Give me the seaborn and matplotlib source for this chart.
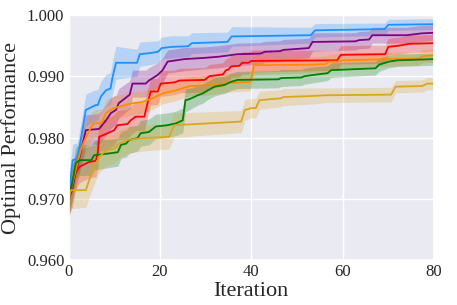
import numpy as np
import pandas as pd
import seaborn as sns
import matplotlib
matplotlib.use("Agg")
import matplotlib.pyplot as plt

# corner points of each curve (iteration, mean performance, band half-width)
blue_x = [0, 0.9, 1.9, 2.3, 3.8, 6.0, 6.4, 7.1, 8.2, 9.2, 9.6, 10.4, 15.0, 15.6, 18.0, 19.6, 20.4,
          22.6, 26.2, 27.0, 34.8, 35.7, 53.0, 54.0, 69.2, 70.0, 80]
blue_y = [.9700, .9763, .9765, .9780, .9845, .9853, .9853, .9867, .9877, .9880, .9897, .9922, .9922,
          .9936, .9938, .9940, .9946, .9948, .9949, .9954, .9956, .9965, .9967, .9975, .9977, .9984, .9985]
blue_s = [.0030, .0026, .0026, .0026, .0026, .0025, .0025, .0025, .0026, .0026, .0027, .0027, .0022,
          .0020, .0019, .0018, .0018, .0018, .0017, .0017, .0016, .0016, .0013, .0011, .0010, .0009, .0009]

purple_x = [0, 0.8, 1.5, 2.4, 3.8, 6.7, 8.2, 9.3, 10.4, 11.0, 12.9, 13.4, 14.0, 16.9, 17.6, 19.5, 20.6,
            21.7, 25.4, 29.8, 33.0, 37.0, 42.0, 43.0, 46.3, 47.0, 52.6, 53.4, 62.8, 63.6, 65.8, 66.5,
            74.0, 77.3, 80]
purple_y = [.9700, .9714, .9740, .9768, .9812, .9814, .9828, .9840, .9845, .9856, .9867, .9870, .9888,
            .9888, .9893, .9902, .9910, .9924, .9928, .9930, .9932, .9936, .9937, .9940, .9941, .9943,
            .9946, .9956, .9957, .9959, .9960, .9967, .9967, .9970, .9971]
purple_s = [.0030, .0028, .0027, .0026, .0025, .0025, .0025, .0025, .0024, .0024, .0023, .0023, .0022,
            .0022, .0021, .0020, .0020, .0019, .0019, .0018, .0018, .0018, .0018, .0017, .0017, .0017,
            .0016, .0015, .0014, .0014, .0014, .0013, .0013, .0013, .0013]

red_x = [0, 0.8, 1.3, 2.4, 4.5, 6.0, 6.4, 6.7, 8.6, 10.0, 10.7, 12.9, 13.6, 14.7, 16.6, 17.3, 18.0,
         19.5, 20.2, 23.2, 24.3, 29.8, 30.8, 33.8, 34.5, 35.0, 35.6, 37.4, 38.0, 39.4, 40.0, 58.8,
         59.6, 69.3, 70.0, 72.4, 74.6, 80]
red_y = [.9700, .9725, .9739, .9752, .9760, .9762, .9775, .9801, .9807, .9812, .9820, .9822, .9828,
         .9834, .9834, .9856, .9875, .9875, .9888, .9890, .9893, .9894, .9900, .9903, .9910, .9911,
         .9916, .9917, .9922, .9922, .9925, .9926, .9935, .9936, .9948, .9950, .9953, .9954]
red_s = [.0030, .0028, .0027, .0026, .0026, .0026, .0026, .0025, .0025, .0025, .0024, .0024, .0024,
         .0023, .0023, .0022, .0022, .0021, .0021, .0020, .0020, .0020, .0019, .0019, .0019, .0019,
         .0018, .0018, .0018, .0018, .0018, .0016, .0015, .0015, .0014, .0014, .0014, .0014]

orange_x = [0, 0.8, 1.5, 2.7, 3.5, 5.0, 5.6, 7.3, 8.2, 9.9, 12.0, 14.0, 16.2, 18.4, 20.6, 23.5, 26.5,
            30.0, 34.8, 39.8, 40.6, 54.0, 56.4, 57.0, 59.4, 60.0, 76.7, 77.6, 80]
orange_y = [.9700, .9722, .9745, .9780, .9795, .9818, .9823, .9824, .9840, .9848, .9852, .9856, .9858,
            .9864, .9872, .9877, .9884, .9885, .9889, .9891, .9918, .9919, .9920, .9924, .9924, .9926,
            .9929, .9933, .9934]
orange_s = [.0030, .0027, .0026, .0025, .0024, .0023, .0022, .0022, .0021, .0020, .0019, .0019, .0018,
            .0018, .0017, .0017, .0016, .0016, .0015, .0015, .0015, .0013, .0013, .0012, .0012, .0012,
            .0011, .0011, .0011]

green_x = [0, 0.8, 1.6, 2.4, 5.0, 5.6, 8.9, 10.8, 11.5, 12.6, 13.3, 15.1, 15.8, 17.6, 19.1, 21.6, 23.5,
           25.0, 25.6, 26.2, 26.9, 28.3, 29.4, 30.5, 32.0, 34.2, 35.6, 37.0, 46.0, 46.5, 51.0, 51.6,
           53.4, 56.7, 57.5, 67.2, 68.0, 70.2, 72.0, 80]
green_y = [.9700, .9725, .9758, .9763, .9763, .9771, .9774, .9776, .9788, .9790, .9796, .9799, .9807,
           .9809, .9818, .9820, .9823, .9828, .9861, .9862, .9864, .9869, .9872, .9877, .9883, .9886,
           .9891, .9894, .9895, .9897, .9898, .9900, .9902, .9905, .9910, .9913, .9919, .9924, .9926,
           .9928]
green_s = [.0030, .0028, .0026, .0025, .0025, .0024, .0023, .0023, .0022, .0022, .0022, .0021, .0021,
           .0021, .0020, .0020, .0020, .0020, .0019, .0018, .0017, .0016, .0016, .0015, .0015, .0014,
           .0014, .0014, .0014, .0014, .0013, .0013, .0013, .0012, .0012, .0011, .0011, .0010, .0010,
           .0010]

gold_x = [0, 0.5, 3.8, 4.5, 6.0, 6.7, 8.2, 10.0, 11.1, 12.9, 16.2, 22.0, 23.1, 37.8, 38.6, 40.0, 41.0,
          41.8, 46.5, 47.0, 54.0, 56.4, 70.6, 71.6, 77.4, 78.5, 80]
gold_y = [.9700, .9714, .9714, .9730, .9758, .9768, .9779, .9782, .9790, .9796, .9799, .9801, .9820,
          .9826, .9845, .9848, .9848, .9861, .9864, .9866, .9868, .9869, .9870, .9883, .9884, .9888, .9888]
gold_s = [.0030, .0030, .0028, .0028, .0027, .0026, .0025, .0024, .0023, .0022, .0021, .0020, .0020,
          .0018, .0017, .0016, .0016, .0015, .0014, .0014, .0013, .0012, .0012, .0010, .0010, .0010, .0010]

series = [
    ("blue", blue_x, blue_y, blue_s, "#1E90FF"),
    ("purple", purple_x, purple_y, purple_s, "purple"),
    ("red", red_x, red_y, red_s, "red"),
    ("orange", orange_x, orange_y, orange_s, "darkorange"),
    ("green", green_x, green_y, green_s, "green"),
    ("gold", gold_x, gold_y, gold_s, "goldenrod"),
]

frames = []
for name, xs, ys, ss, _ in series:
    frames.append(pd.DataFrame({"Iteration": xs, "perf": ys, "spread": ss, "run": name}))
df = pd.concat(frames, ignore_index=True)
palette = {name: c for name, _, _, _, c in series}

sns.set_theme(style="darkgrid")
plt.rcParams["font.family"] = ["Liberation Serif", "DejaVu Serif"]

fig = plt.figure(figsize=(4.57, 3.05), dpi=100)
ax = fig.add_axes([68.5 / 457, 45 / 305, (434 - 68.5) / 457, 245 / 305])

# shaded bands first, lines on top
for name, _, _, _, c in series:
    d = df[df["run"] == name]
    ax.fill_between(d["Iteration"], d["perf"] - d["spread"], d["perf"] + d["spread"],
                    color=c, alpha=0.25, linewidth=0)

sns.lineplot(data=df, x="Iteration", y="perf", hue="run", palette=palette,
             estimator=None, sort=False, legend=False, linewidth=1.3, ax=ax)

ax.set_xlim(0, 80)
ax.set_ylim(0.960, 1.000)
ax.set_xticks([0, 20, 40, 60, 80])
ax.set_yticks([0.960, 0.970, 0.980, 0.990, 1.000])
ax.set_yticklabels(["0.960", "0.970", "0.980", "0.990", "1.000"])
ax.tick_params(labelsize=12, length=0, pad=3)
ax.set_xlabel("Iteration", fontsize=16, labelpad=1)
ax.set_ylabel("Optimal Performance", fontsize=16, labelpad=4)

fig.savefig("out.png", dpi=100)
plt.close(fig)
